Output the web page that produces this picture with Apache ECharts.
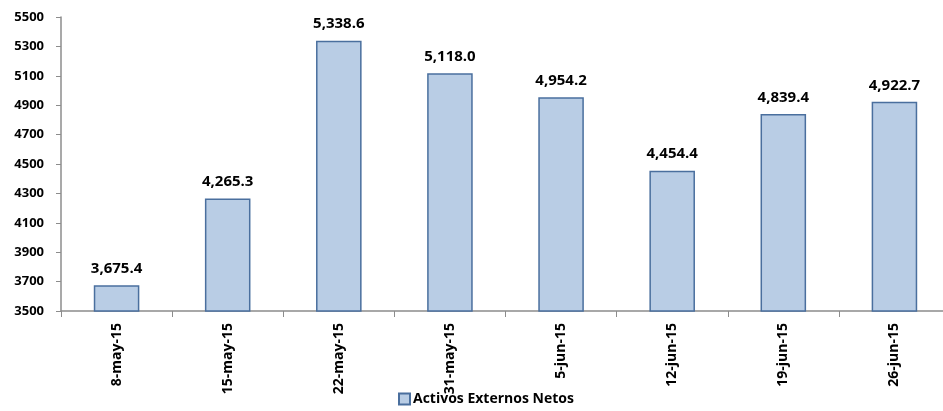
<!DOCTYPE html>
<html><head><meta charset="utf-8">
<script src="https://cdn.jsdelivr.net/npm/echarts@6/dist/echarts.min.js"></script>
<style>html,body{margin:0;padding:0;background:#fff;overflow:hidden}#c{width:950px;height:411px}</style>
</head><body><div id="c"></div>
<script>
var categories = ['8-may-15','15-may-15','22-may-15','31-may-15','5-jun-15','12-jun-15','19-jun-15','26-jun-15'];
var values = [3675.4, 4265.3, 5338.6, 5118.0, 4954.2, 4454.4, 4839.4, 4922.7];
var seriesName = 'Activos Externos Netos';
var yMin = 3500, yMax = 5500, yStep = 200;

var font = '"Open Sans", "Liberation Sans", sans-serif';
var chart = echarts.init(document.getElementById('c'));
chart.setOption({
  animation: false,
  grid: {left: 61, right: 0, top: 17, bottom: 100},
  legend: {
    top: 392, left: 398, padding: 0, itemWidth: 11, itemHeight: 11, itemGap: 4,
    textStyle: {fontFamily: font, fontWeight: 'bold', fontSize: 14, color: '#000', padding: [0, 0, 0, -2]},
    data: [{name: seriesName, icon: 'rect'}]
  },
  xAxis: {
    type: 'category', data: categories,
    axisLine: {lineStyle: {color: '#8c8c8c', width: 1.5}},
    axisTick: {show: true, length: 6, lineStyle: {color: '#8c8c8c'}},
    axisLabel: {rotate: 90, interval: 0, fontFamily: font, fontWeight: 'bold', fontSize: 14, color: '#000', margin: 12}
  },
  yAxis: {
    type: 'value', min: yMin, max: yMax, interval: yStep,
    splitLine: {show: false},
    axisLine: {show: true, lineStyle: {color: '#8c8c8c', width: 1.5}},
    axisTick: {show: true, length: 5, lineStyle: {color: '#8c8c8c'}},
    axisLabel: {fontFamily: font, fontWeight: 'bold', fontSize: 13, color: '#000', margin: 17,
      formatter: function (v) { return String(v); }}
  },
  series: [{
    name: seriesName, type: 'bar', data: values, barWidth: '41%',
    itemStyle: {color: '#B9CDE5', borderColor: '#4A6F9E', borderWidth: 1.5},
    label: {
      show: true, position: 'top', distance: 9,
      fontFamily: font, fontWeight: 'bold', fontSize: 15, color: '#000',
      formatter: function (p) { return p.value.toLocaleString('en-US', {minimumFractionDigits: 1, maximumFractionDigits: 1}); }
    }
  }]
});
</script></body></html>
